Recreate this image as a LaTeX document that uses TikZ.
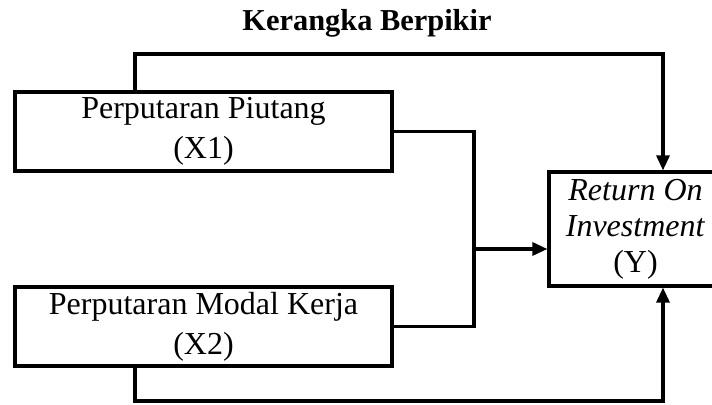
\documentclass[tikz,border=0pt]{standalone}
\usepackage{fontspec}
\setmainfont{Liberation Serif}
\usetikzlibrary{arrows.meta}
\tikzset{
  boxnode/.style={draw, line width=1.6pt, inner sep=0pt, align=center,
    font=\fontsize{16}{20}\selectfont},
  conn/.style={line width=1.6pt},
  arr/.style={conn, -{Triangle[length=7.5pt,width=6.5pt]}},
  titlenode/.style={font=\fontsize{15.2}{18}\selectfont\bfseries, inner sep=0pt, anchor=base}
}
\begin{document}
\begin{tikzpicture}[x=0.5pt,y=-0.5pt]
\useasboundingbox (0,0) rectangle (712,405);
\clip (0,0) rectangle (712,405);
\node[titlenode] (title) at (367,31) {Kerangka Berpikir};
\node[boxnode, minimum width=188.5pt, minimum height=39.5pt] (X1) at (203.5,131.5)
  {Perputaran Piutang\\(X1)};
\node[boxnode, minimum width=188.5pt, minimum height=39.5pt] (X2) at (203.5,326.5)
  {Perputaran Modal Kerja\\(X2)};
\node[boxnode, minimum width=86.5pt, minimum height=57pt, font=\fontsize{16}{18}\selectfont] (Y) at (635.5,229)
  {\textit{Return On}\\\textit{Investment}\\(Y)};
\coordinate (j) at (474,249);
\coordinate (t1) at (135,54);
\coordinate (t2) at (135,401);
\coordinate (ya) at (663,54);
\coordinate (yb) at (663,401);
\draw[conn] (X1.east) -| (j);
\draw[conn] (X2.east) -| (j);
\draw[arr] (j) -- (j -| Y.west);
\draw[arr] (X1.north -| t1) -- (t1) -- (ya) -- (ya |- Y.north);
\draw[arr] (X2.south -| t2) -- (t2) -- (yb) -- (yb |- Y.south);
\end{tikzpicture}
\end{document}
